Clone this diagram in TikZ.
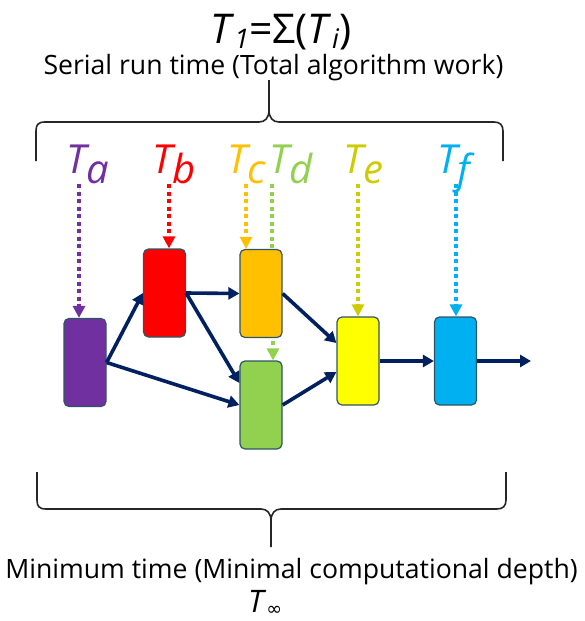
\documentclass[tikz,border=0pt]{standalone}
\usepackage{fontspec}
\setmainfont{Open Sans}
\newfontfamily\dejavu{DejaVu Sans}
\usetikzlibrary{arrows.meta}
\definecolor{cA}{HTML}{7030A0}
\definecolor{cB}{HTML}{FF0000}
\definecolor{cC}{HTML}{FFC000}
\definecolor{cD}{HTML}{92D050}
\definecolor{cE}{HTML}{FFFF00}
\definecolor{cEl}{HTML}{CCCC00}
\definecolor{cF}{HTML}{00B0F0}
\definecolor{navy}{HTML}{002060}
\definecolor{boxedge}{HTML}{2E5563}
\begin{document}
\begin{tikzpicture}[x=1pt,y=-1pt,
  box/.style={draw=boxedge, line width=1.2pt, rounded corners=5pt, minimum width=42pt, minimum height=88pt, inner sep=0pt},
  flow/.style={draw=navy, line width=3.6pt, -{Triangle[length=11pt,width=12pt]}},
  dots/.style={line width=4pt, dash pattern=on 4pt off 3.5pt, -{Triangle[length=12pt,width=12pt]}},
  dotsplain/.style={line width=4pt, dash pattern=on 4pt off 3.5pt},
  lab/.style={inner sep=0pt, anchor=base west, font=\fontsize{40}{40}\selectfont\itshape},
  brace/.style={line width=1.6pt, draw=black!85},
  txt/.style={inner sep=0pt, font=\fontsize{26.6}{30}\selectfont}]
\useasboundingbox (0,0) rectangle (585,621);

% texts top
\node[inner sep=0pt, anchor=base west] (tone) at (210,43)
  {\fontsize{41}{41}\selectfont\textit{T}\raisebox{-5pt}{\fontsize{27}{27}\selectfont\textit{1}}=Σ(\textit{T}\raisebox{-5pt}{\fontsize{27}{27}\selectfont\textit{i}})};
\node[txt, anchor=base] (serial) at (273.5,74) {Serial run time (Total algorithm work)};

% top brace
\draw[brace] (36,161) -- (36,131) .. controls (36,125) and (38,122) .. (45,122) -- (259,122)
  .. controls (265,122) and (269,118) .. (269,110) -- (269,80);
\draw[brace] (269,110) .. controls (269,118) and (273,122) .. (279,122) -- (494,122)
  .. controls (500,122) and (503,125) .. (503,131) -- (503,161);

% boxes
\node[box, fill=cA] (a) at (85,362.5) {};
\node[box, fill=cB] (b) at (164.5,293) {};
\node[box, fill=cC] (c) at (261,293.5) {};
\node[box, fill=cD] (d) at (261,405) {};
\node[box, fill=cE] (e) at (358,361) {};
\node[box, fill=cF] (f) at (455.5,361) {};
\coordinate (out) at (531,361);

% labels
\node[lab, text=cA] (la) at (66,173) {T\raisebox{-10pt}{a}};
\node[lab, text=cB] (lb) at (152,173) {T\raisebox{-10pt}{b}};
\node[lab, text=cC] (lc) at (227,173) {T\raisebox{-10pt}{c}};
\node[lab, text=cD] (ld) at (269,173) {T\raisebox{-10pt}{d}};
\node[lab, text=cEl] (le) at (343,173) {T\raisebox{-10pt}{e}};
\node[lab, text=cF] (lf) at (437,173) {T\raisebox{-10pt}{f}};

\coordinate (sa) at (79,184);
\coordinate (sb) at (169,184);
\coordinate (sc) at (246,184);
\coordinate (sd) at (272,184);
\coordinate (se) at (358,184);
\coordinate (sf) at (456,184);
\coordinate (sd2) at (273,341);

\draw[dots, draw=cA, fill=cA] (sa) -- (sa |- a.north);
\draw[dots, draw=cB, fill=cB] (sb) -- (sb |- b.north);
\draw[dots, draw=cC, fill=cC] (sc) -- (sc |- c.north);
\draw[dotsplain, draw=cD] (sd) -- (sd |- c.north);
\draw[dots, draw=cD, fill=cD] (sd2) -- (sd2 |- d.north);
\draw[dots, draw=cEl, fill=cEl] (se) -- (se |- e.north);
\draw[dots, draw=cF, fill=cF] (sf) -- (sf |- f.north);

% flow arrows
\draw[flow] (a.east) -- (b.west);
\draw[flow] (a.east) -- (d.west);
\draw[flow] (b.east) -- (c.west);
\draw[flow] (b.east) -- ([yshift=22pt]d.west);
\draw[flow] (c.east) -- ([yshift=18pt]e.west);
\draw[flow] (d.east) -- ([yshift=-11pt]e.west);
\draw[flow] (e.east) -- (f.west);
\draw[flow] (f.east) -- (out);

% bottom brace
\draw[brace] (37,472) -- (37,500) .. controls (37,506) and (39,509) .. (46,509) -- (261,509)
  .. controls (267,509) and (271,513) .. (271,521) -- (271,547);
\draw[brace] (271,521) .. controls (271,513) and (275,509) .. (281,509) -- (497,509)
  .. controls (503,509) and (506,506) .. (506,500) -- (506,472);

% bottom texts
\node[txt, anchor=base] (minimum) at (291.5,578) {Minimum time (Minimal computational depth)};
\node[inner sep=0pt, anchor=base west] (tinf) at (248,612)
  {\fontsize{31}{31}\selectfont\textit{T}\raisebox{-3pt}{\fontsize{19}{19}\selectfont\dejavu ∞}};
\end{tikzpicture}
\end{document}
